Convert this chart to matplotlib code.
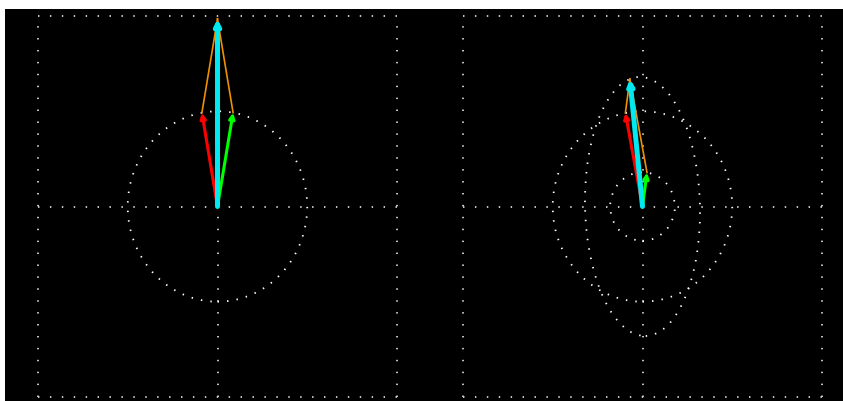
import numpy as np
import matplotlib.pyplot as plt
from matplotlib.patches import Circle, Ellipse

# Two counter-rotating phasors per panel: (magnitude, angle in degrees)
fwd_mag = [1.0, 1.0]
fwd_ang = [100.0, 101.0]
bwd_mag = [1.0, 0.36]
bwd_ang = [80.0, 82.0]

LIM = 2.0
GRID_COLOR = '#d8d8d8'
RED = '#ff0000'
GREEN = '#00ff00'
CYAN = '#00e8f0'
ORANGE = '#f09000'


def phasor(mag, ang):
    a = np.deg2rad(ang)
    return np.array([mag * np.cos(a), mag * np.sin(a)])


def arrow(ax, start, end, color, lw, scale, z):
    ax.annotate('', xy=end, xytext=start,
                arrowprops=dict(arrowstyle='-|>', color=color, lw=lw,
                                mutation_scale=scale, shrinkA=0, shrinkB=0),
                zorder=z)


def draw_panel(ax, m1, a1, m2, a2):
    ax.set_xlim(-LIM, LIM)
    ax.set_ylim(-LIM, LIM)
    ax.set_facecolor('black')
    ax.axis('off')

    # dotted frame and center cross
    dots = dict(color=GRID_COLOR, lw=1.3, ls=(0, (0.8, 5.8)), clip_on=False, zorder=1)
    for v in (-LIM, 0, LIM):
        ax.plot([-LIM, LIM], [v, v], **dots)
        ax.plot([v, v], [-LIM, LIM], **dots)

    # loci traced by each phasor tip and by the resultant
    trace = dict(fill=False, ec='white', lw=1.3, ls=(0, (0.8, 4.5)), zorder=2)
    ax.add_patch(Circle((0, 0), m1, **trace))
    if m2 != m1:
        ax.add_patch(Circle((0, 0), m2, **trace))
        ax.add_patch(Ellipse((0, 0), 2 * abs(m1 - m2), 2 * (m1 + m2),
                             angle=(a1 + a2) / 2 - 90, **trace))

    p1 = phasor(m1, a1)
    p2 = phasor(m2, a2)
    res = p1 + p2

    # parallelogram completion
    ax.plot([p1[0], res[0]], [p1[1], res[1]], color=ORANGE, lw=1.2, zorder=3)
    ax.plot([p2[0], res[0]], [p2[1], res[1]], color=ORANGE, lw=1.2, zorder=3)

    arrow(ax, (0, 0), p1, RED, 2.2, 8, 4)
    arrow(ax, (0, 0), p2, GREEN, 2.2, 8, 4)
    arrow(ax, (0, 0), res, CYAN, 3.6, 8, 5)


fig = plt.figure(figsize=(8.43, 4.01), dpi=100)
fig.patch.set_facecolor('white')

bg = fig.add_axes([5 / 843, 0, 838 / 843, 392 / 401])
bg.set_facecolor('black')
bg.set_xticks([])
bg.set_yticks([])
for s in bg.spines.values():
    s.set_visible(False)

W, H = 843, 401
pw, ph = 359 / W, 381 / H
bottom = 4 / H
ax_l = fig.add_axes([38 / W, bottom, pw, ph])
ax_r = fig.add_axes([463 / W, bottom, pw, ph])

draw_panel(ax_l, fwd_mag[0], fwd_ang[0], bwd_mag[0], bwd_ang[0])
draw_panel(ax_r, fwd_mag[1], fwd_ang[1], bwd_mag[1], bwd_ang[1])

fig.savefig('out.png', dpi=100, facecolor=fig.get_facecolor())
